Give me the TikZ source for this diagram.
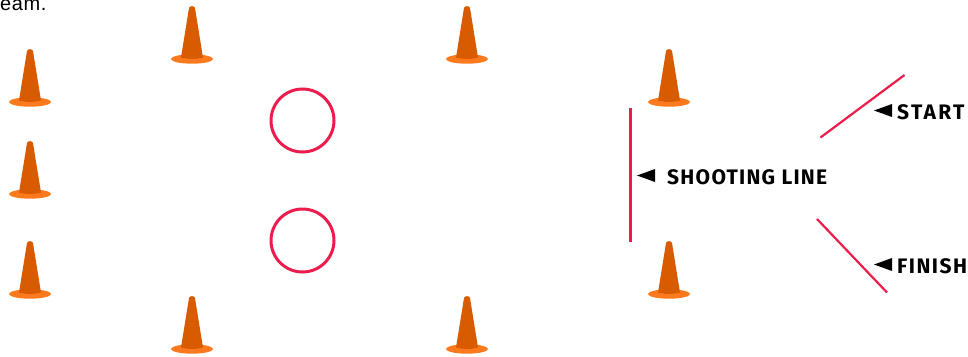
\documentclass[tikz,border=0pt]{standalone}
\usepackage{fontspec}
\setmainfont[LetterSpace=3]{Liberation Sans}
\newfontfamily\labelfont[LetterSpace=6]{Fira Sans}
\newfontfamily\shortlabelfont[LetterSpace=11]{Fira Sans}
\newfontfamily\finishfont[LetterSpace=7]{Fira Sans}
\definecolor{coneDark}{HTML}{D95B00}
\definecolor{coneLight}{HTML}{FB7A1E}
\definecolor{markRed}{HTML}{EC1C4C}
\tikzset{
  x=1pt,y=-1pt,
  markline/.style={draw=markRed,line width=2.2pt},
  ring/.style={draw=markRed,line width=3pt},
  pointer/.style={fill=black,draw=none},
  lbl/.style={inner sep=0pt,anchor=base west,font=\labelfont\bfseries\fontsize{21}{21}\selectfont,text=black},
  shortlbl/.style={inner sep=0pt,anchor=base west,font=\shortlabelfont\bfseries\fontsize{21}{21}\selectfont,text=black},
  finishlbl/.style={inner sep=0pt,anchor=base west,font=\finishfont\bfseries\fontsize{21}{21}\selectfont,text=black},
  cone/.pic={
    \fill[coneLight] (0,0) ellipse [x radius=21,y radius=4.7];
    \fill[coneDark] (-11,-1.5) -- (-3,-51) .. controls (-2,-53.5) and (2,-53.5) .. (3,-51) -- (11,-1.5)
      .. controls (4,0.5) and (-4,0.5) .. (-11,-1.5) -- cycle;
  }
}
\begin{document}
\begin{tikzpicture}
\useasboundingbox (0,0) rectangle (968,356);
\node[inner sep=0pt,anchor=base west,font=\fontsize{20}{20}\selectfont] (cut) at (0,10.7) {eam.};
\foreach \n/\x/\y in {a/30/102,b/30/194,c/30/294,d/192/59,e/467/59,f/192/349,g/467/349,h/669/102,i/669/294}
  \pic (\n) at (\x,\y) {cone};
\draw[ring] (302.5,120.5) circle [radius=31.5];
\draw[ring] (302.5,240.5) circle [radius=31.5];
\draw[markline] (630.5,108) -- (630.5,242);
\draw[markline] (820.5,137.5) -- (904.5,75);
\draw[markline] (817,219) -- (887,292.5);
\fill[pointer] (637,175.5) -- (655,169) -- (655,182) -- cycle;
\fill[pointer] (874,110.5) -- (892,104) -- (892,117) -- cycle;
\fill[pointer] (874,264.5) -- (892,258) -- (892,271) -- cycle;
\node[lbl] (shoot) at (667,184) {SHOOTING LINE};
\node[shortlbl] (start) at (897,119) {START};
\node[finishlbl] (finish) at (897,273) {FINISH};
\end{tikzpicture}
\end{document}
